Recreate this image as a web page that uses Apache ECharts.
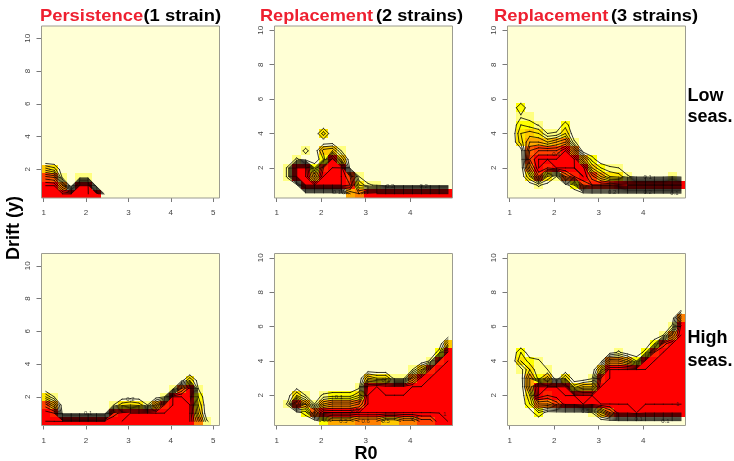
<!DOCTYPE html>
<html><head><meta charset="utf-8">
<style>html,body{margin:0;padding:0;background:#fff}#c{width:734px;height:461px}#c canvas{filter:blur(0.4px)}</style>
<script src="https://cdn.jsdelivr.net/npm/echarts@6/dist/echarts.min.js"></script>
</head><body><div id="c"></div>
<script>
// Cell centres of the image grid
const r0Wide = [1.05,1.25,1.45,1.65,1.85,2.05,2.25,2.45,2.65,2.85,3.05,3.25,3.45,3.65,3.85,4.05,4.25,4.45,4.65,4.85,5.05];
const r0Narrow = [1.05,1.25,1.45,1.65,1.85,2.05,2.25,2.45,2.65,2.85,3.05,3.25,3.45,3.65,3.85,4.05,4.25,4.45,4.65,4.85];
const driftWide = [0.5,1,1.5,2,2.5,3,3.5,4,4.5,5,5.5,6,6.5,7,7.5,8,8.5,9,9.5,10,10.5];
const driftNarrow = [0.5,1,1.5,2,2.5,3,3.5,4,4.5,5,5.5,6,6.5,7,7.5,8,8.5,9,9.5,10];
const xTicks = [1,2,3,4,5];
const xTicksNarrow = [1,2,3,4];
const yTicks = [2,4,6,8,10];
const contourLevels = [0.1,0.2,0.3,0.4,0.5,0.6,0.7,0.8,0.9,1];
const heatPalette = ['#FFFFD5','#FFFF80','#FFFF00','#FFE600','#FFC800','#FFAA00','#FF8000','#FF6000','#FF4000','#FF2000','#FF0000'];

// Probability per column (R0), listed from drift 0.5 upward
const lowOne = [[1,1,.75,.35],[1,1,.7,.25],[1,.6,.05],[1,0],[1,1,.05],[1,1,.05],[.95,0],[0],[],[],[],[],[],[],[],[],[],[],[],[],[]];
const highOne = [[1,.95,.75,.3],[1,.9,.5,.1],[1,.04],[1,.04],[1,.04],[1,.04],[1,.04],[1,.04],[.98,.85,.1],[1,.95,.25,.04],[1,1,.3,.04],[1,1,.25,.04],[1,1,.1],[1,1,.45,.04],[1,1,.9,.1],[1,1,1,1,.05],[1,1,1,1,.7,.04],[1,1,1,.95,.95,.3],[.6,.4,.3,.2,.1,.04],[.12],[]];
const lowTwo = [[],[0,.02,.12,.12],[0,.04,1,1,.12],[0,1,1,1,.02,.14],[0,1,.5,.2],[0,1,1,.9,.2,.35,.02,.25],[0,1,1,1,.95,.4,.04],[0,1,1,1,.4,.1],[.5,.9,.8,.04],[.6,.3,.1],[.95,.12,.02],[1,.08],[1,.04],[1,.04],[1,.04],[1,.04],[1,.04],[1,.04],[1,.04],[1,.04]];
const highTwo = [[],[0,0,.12,.04],[0,.04,.9,.3,.04],[0,.15,.5,.1],[0,.7,.1,.04],[.15,1,.5,.12],[.45,1,.6,.15],[.45,1,.6,.15],[.45,1,.6,.15],[.6,1,.7,.3,.05],[.6,1,1,1,.95,.4],[.6,1,1,1,1,.3],[.4,1,1,1,.95,.3],[.4,1,1,1,.95,.05],[.55,1,1,1,.95,.05],[.55,1,1,1,1,.6,.1],[.75,1,1,1,1,.95,.4],[.75,1,1,1,1,1,.9,.12],[.98,1,1,1,1,1,1,.9,.15],[1,1,1,1,1,1,1,1,.95,.4]];
const lowThree = [[],[0,0,0,0,0,.04,.25,.3,.2,.08,.2],[0,.02,.3,.6,.8,.7,.5,.35,.15,.05],[0,.12,.8,1,1,.8,.5,.3,.09],[0,.04,.3,.9,1,.8,.4,.1],[0,0,.1,1,1,.8,.5,.12],[0,.04,.7,1,1,1,.6,.3,.15],[0,.2,.9,1,1,.6,.12],[.03,.8,1,.95,.5,.02],[.04,.9,.75,.4,.15],[.04,.9,.5,.2],[.04,.9,.3,.12],[.04,.95,.25,.1],[.04,1,.12],[.04,1,.04],[.04,1,.04],[.04,1,.04],[.04,1,.04],[.04,1,.08],[.04,1,.04]];
const highThree = [[],[0,0,0,0,0,.02,.05,.3,.2],[0,.03,.2,.3,.5,.5,.3,.15,.02],[0,.2,.6,1,1,.15,.1,.12],[0,.04,.6,.9,1,.35,.1],[0,.04,.75,.95,1,0],[0,.04,.95,1,1,.3],[0,.04,.95,1,.25],[0,.04,1,1,.4],[0,.1,.95,1,.4,.08],[.02,.4,1,1,1,.9,.4,.04],[.03,.7,1,1,1,1,1,.6,.04],[.04,.95,1,1,1,1,1,.6,.12],[.04,.95,1,1,1,1,1,.45,.02],[.04,1,1,1,1,1,1,.2],[.04,.95,1,1,1,1,1,.95,.15],[.04,.95,1,1,1,1,1,1,.9,.2],[.04,.95,1,1,1,1,1,1,1,.85,.1],[.04,.95,1,1,1,1,1,1,1,1,.6,.12],[.04,.95,1,1,1,1,1,1,1,1,1,.95,.6,.04]];

// Contour labels: R0, drift, text
const lowOneLabels = [];
const highOneLabels = [[2.05,.97,'0.1'],[3.05,1.85,'0.2']];
const lowTwoLabels = [[2.35,.55,'0.1'],[3.55,.9,'0.2'],[4.3,.9,'0.2']];
const highTwoLabels = [[2.4,1.9,'0.1'],[2.5,.5,'0.5'],[3,.5,'0.6'],[3.45,.5,'0.5'],[4.1,.65,'0.8'],[4.78,.92,'1'],[3.45,2.85,'0.1'],[2.75,1.15,'0.5']];
const lowThreeLabels = [[4.1,1.45,'0.1'],[4.1,.55,'0.2'],[4.7,.5,'0.1'],[2.05,2.8,'0.9'],[3.3,.6,'0.2']];
const highThreeLabels = [[2.7,1.1,'0.5'],[3.9,.6,'0.1'],[4.5,.5,'0.1'],[4.78,1.5,'1']];

const panels = [
 {x:r0Wide, y:driftWide, v:lowOne, ticks:xTicks, labels:lowOneLabels, left:41.5, top:26, h:172},
 {x:r0Narrow, y:driftNarrow, v:lowTwo, ticks:xTicksNarrow, labels:lowTwoLabels, left:274.5, top:26, h:172},
 {x:r0Narrow, y:driftNarrow, v:lowThree, ticks:xTicksNarrow, labels:lowThreeLabels, left:507.5, top:26, h:172},
 {x:r0Wide, y:driftWide, v:highOne, ticks:xTicks, labels:highOneLabels, left:41.5, top:253.5, h:172},
 {x:r0Narrow, y:driftNarrow, v:highTwo, ticks:xTicksNarrow, labels:highTwoLabels, left:274.5, top:253.5, h:172},
 {x:r0Narrow, y:driftNarrow, v:highThree, ticks:xTicksNarrow, labels:highThreeLabels, left:507.5, top:253.5, h:172}
];

function val(p,i,j){ const c=p.v[i]||[]; return c[j]===undefined?0:c[j]; }
function contour(p){
  const out=[];
  for(const raw of contourLevels){
    const L=Math.min(raw,0.999);
    for(let i=0;i<p.x.length-1;i++)for(let j=0;j<p.y.length-1;j++){
      const a=val(p,i,j),b=val(p,i+1,j),c=val(p,i+1,j+1),d=val(p,i,j+1);
      const x0=p.x[i],x1=p.x[i+1],y0=p.y[j],y1=p.y[j+1];
      const pts=[];
      if((a>=L)!==(b>=L))pts.push([x0+(L-a)/(b-a)*(x1-x0),y0]);
      if((b>=L)!==(c>=L))pts.push([x1,y0+(L-b)/(c-b)*(y1-y0)]);
      if((c>=L)!==(d>=L))pts.push([x0+(L-d)/(c-d)*(x1-x0),y1]);
      if((d>=L)!==(a>=L))pts.push([x0,y0+(L-a)/(d-a)*(y1-y0)]);
      if(pts.length===2){out.push(pts[0],pts[1],[NaN,NaN]);}
      else if(pts.length===4){out.push(pts[0],pts[3],[NaN,NaN],pts[1],pts[2],[NaN,NaN]);}
    }
  }
  return out;
}

const grids=[],xAxes=[],yAxes=[],series=[];
panels.forEach((p,k)=>{
  const dx=p.x===r0Wide;
  grids.push({left:p.left,top:p.top,width:178,height:p.h,show:true,backgroundColor:'transparent',borderColor:'#9c9c90',borderWidth:1,z:3,containLabel:false});
  xAxes.push({type:'value',gridIndex:k,min:0.95,max:dx?5.15:4.95,splitLine:{show:false},axisLine:{show:false},
    axisTick:{show:true,length:4,customValues:p.ticks,lineStyle:{color:'#555',width:.8}},
    axisLabel:{show:true,customValues:p.ticks,color:'#444',fontSize:8,fontFamily:'Liberation Sans',margin:11,showMinLabel:true,showMaxLabel:true}});
  yAxes.push({type:'value',gridIndex:k,min:0.25,max:dx?10.75:10.25,splitLine:{show:false},axisLine:{show:false},
    axisTick:{show:true,length:5,customValues:yTicks,lineStyle:{color:'#555',width:.8}},
    axisLabel:{show:true,customValues:yTicks,color:'#444',fontSize:8,fontFamily:'Liberation Sans',margin:10,rotate:90,showMinLabel:true,showMaxLabel:true}});
  const cells=[];
  p.x.forEach((x,i)=>p.y.forEach((y,j)=>cells.push([x,y,val(p,i,j)])));
  series.push({type:'custom',xAxisIndex:k,yAxisIndex:k,coordinateSystem:'cartesian2d',silent:true,z:1,clip:true,data:cells,
    encode:{x:0,y:1},
    renderItem:(params,api)=>{
      const x=api.value(0),y=api.value(1),v=api.value(2);
      const a=api.coord([x-.1,y+.25]),b=api.coord([x+.1,y-.25]);
      const X=Math.round(a[0]),Y=Math.round(a[1]);
      return {type:'rect',shape:{x:X,y:Y,width:Math.round(b[0])-X,height:Math.round(b[1])-Y},
        style:{fill:heatPalette[Math.round(v*10)]}};
    }});
  series.push({type:'line',xAxisIndex:k,yAxisIndex:k,z:2,silent:true,showSymbol:false,symbol:'none',connectNulls:false,animation:false,
    data:contour(p),lineStyle:{color:'#000',width:.8,cap:'round'}});
  series.push({type:'scatter',xAxisIndex:k,yAxisIndex:k,z:4,silent:true,symbolSize:0,data:p.labels,
    label:{show:true,position:'inside',fontSize:6,color:'#111',fontFamily:'Liberation Sans',formatter:o=>o.value[2]}});
});

const bold='bold 17px "Liberation Sans"', big='bold 18px "Liberation Sans"';
const head=(t,x,sx,fill)=>({type:'text',x,y:8,scaleX:sx,z:10,style:{text:t,font:bold,fill}});
const side=(t,x,y)=>({type:'text',x,y,z:10,style:{text:t,font:big,fill:'#000',textVerticalAlign:'middle'}});
const red='#EE2030', ink='#000';
const chart=echarts.init(document.getElementById('c'),null,{renderer:'canvas'});
chart.setOption({animation:false,backgroundColor:'#fff',grid:grids,xAxis:xAxes,yAxis:yAxes,series,
  graphic:{elements:[
    head('Persistence',40,1.08,red),head('(1 strain)',143.5,1.08,ink),
    head('Replacement',260,1.068,red),head('(2 strains)',376,1.07,ink),
    head('Replacement',494,1.08,red),head('(3 strains)',611,1.07,ink),
    side('Low',687.5,96),side('seas.',687.5,117),
    side('High',687.5,338),side('seas.',687.5,361),
    {type:'text',x:366,y:454,z:10,style:{text:'R0',font:big,fill:'#000',textAlign:'center',textVerticalAlign:'middle'}},
    {type:'text',x:14.5,y:228,rotation:Math.PI/2,z:10,style:{text:'Drift (y)',font:big,fill:'#000',textAlign:'center',textVerticalAlign:'middle'}}
  ]}
});
</script></body></html>
